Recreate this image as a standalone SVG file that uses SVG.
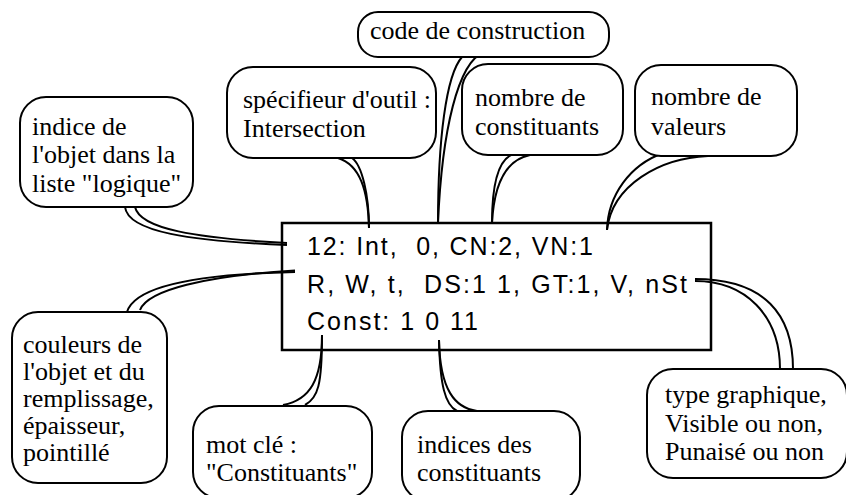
<svg xmlns="http://www.w3.org/2000/svg" width="846" height="495" viewBox="0 0 846 495">
<style>
.bub{fill:#fff;stroke:#000;stroke-width:2}
.lbl{font-family:'Liberation Serif','Times New Roman','DejaVu Serif',serif;font-size:26px;fill:#000}
.main{fill:none;stroke:#000;stroke-width:2.5}
.code{font-family:'Liberation Sans',Arial,'DejaVu Sans',sans-serif;font-size:25px;fill:#000}
.tail{fill:none;stroke:#000;stroke-width:2}
</style>
<rect width="846" height="495" fill="#fff"/>
<g id="record">
<rect class="main" x="282" y="223" width="429" height="127"/>
<text class="code" x="307" y="255" xml:space="preserve" textLength="286" lengthAdjust="spacing">12: Int,  0, CN:2, VN:1</text>
<text class="code" x="307" y="293" xml:space="preserve" textLength="380" lengthAdjust="spacing">R, W, t,  DS:1 1, GT:1, V, nSt</text>
<text class="code" x="307" y="330" xml:space="preserve" textLength="171" lengthAdjust="spacing">Const: 1 0 11</text>
</g>
<g id="connectors">
<path class="tail" d="M125,207 C128,232 190,241 287,245"/>
<path class="tail" d="M135,207 C140,229 195,238 287,243"/>
<path class="tail" d="M127,312 C135,285 200,274 295,272"/>
<path class="tail" d="M140,310 C148,290 205,276 295,270.5"/>
<path class="tail" d="M338,158 C360,165 368,190 369,228"/>
<path class="tail" d="M352,158 C362,165 369,195 369,228"/>
<path class="tail" d="M462,57 C446,75 438,140 438,223"/>
<path class="tail" d="M484,52 C458,62 442,130 438,223"/>
<path class="tail" d="M511,155 C497,162 492,190 492,223"/>
<path class="tail" d="M530,155 C505,160 494,185 492,223"/>
<path class="tail" d="M663,153 C630,165 608,195 607,230"/>
<path class="tail" d="M708,156 C660,158 612,185 607,230"/>
<path class="tail" d="M322,335 C322,380 310,400 283,405"/>
<path class="tail" d="M322,335 C322,385 318,398 305,405"/>
<path class="tail" d="M439,340 C440,385 445,405 457,411"/>
<path class="tail" d="M439,340 C440,390 455,408 477,411"/>
<path class="tail" d="M695,281 C745,281 780,315 780,369"/>
<path class="tail" d="M695,279 C765,279 793,315 793,369"/>
</g>
<g id="indice">
<rect class="bub" x="20" y="97" width="173" height="110" rx="26"/>
<text class="lbl" x="32" y="135">indice de</text>
<text class="lbl" x="32" y="163">l'objet dans la</text>
<text class="lbl" x="32" y="192">liste "logique"</text>
</g>
<g id="specifieur">
<rect class="bub" x="227" y="67" width="209" height="91" rx="26"/>
<text class="lbl" x="243" y="108">spécifieur d'outil :</text>
<text class="lbl" x="243" y="137">Intersection</text>
</g>
<g id="code">
<rect class="bub" x="358" y="12" width="251" height="45" rx="20"/>
<text class="lbl" x="370" y="39">code de construction</text>
</g>
<g id="nbconst">
<rect class="bub" x="462" y="64" width="161" height="91" rx="26"/>
<text class="lbl" x="475" y="106">nombre de</text>
<text class="lbl" x="475" y="135">constituants</text>
</g>
<g id="nbval">
<rect class="bub" x="635" y="65" width="162" height="91" rx="26"/>
<text class="lbl" x="651" y="105">nombre de</text>
<text class="lbl" x="651" y="135">valeurs</text>
</g>
<g id="couleurs">
<rect class="bub" x="12" y="312" width="155" height="171" rx="26"/>
<text class="lbl" x="23" y="353">couleurs de</text>
<text class="lbl" x="23" y="380">l'objet et du</text>
<text class="lbl" x="23" y="407">remplissage,</text>
<text class="lbl" x="23" y="434">épaisseur,</text>
<text class="lbl" x="23" y="461">pointillé</text>
</g>
<g id="motcle">
<rect class="bub" x="193" y="406" width="179" height="92" rx="26"/>
<text class="lbl" x="206" y="453">mot clé :</text>
<text class="lbl" x="206" y="481">"Constituants"</text>
</g>
<g id="indices">
<rect class="bub" x="402" y="411" width="178" height="90" rx="26"/>
<text class="lbl" x="417" y="453">indices des</text>
<text class="lbl" x="417" y="481">constituants</text>
</g>
<g id="type">
<rect class="bub" x="647" y="369" width="200" height="109" rx="26"/>
<text class="lbl" x="665" y="403">type graphique,</text>
<text class="lbl" x="665" y="432">Visible ou non,</text>
<text class="lbl" x="665" y="460">Punaisé ou non</text>
</g>
</svg>
